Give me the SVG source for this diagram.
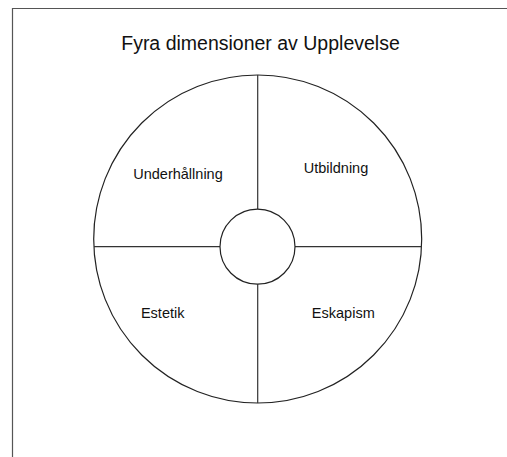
<svg xmlns="http://www.w3.org/2000/svg" width="507" height="457" viewBox="0 0 507 457">
<style>
.frame{fill:none;stroke:#555;stroke-width:1.2}
.shape{fill:#fff;stroke:#222;stroke-width:1.2}
.line{fill:none;stroke:#333;stroke-width:1.2}
.title{font-family:"Liberation Sans",Arial,sans-serif;font-size:19.5px;fill:#111;text-anchor:middle}
.lbl{font-family:"Liberation Sans",Arial,sans-serif;font-size:14.5px;fill:#111;text-anchor:middle}
</style>
<rect width="507" height="457" fill="#fff"/>
<path class="frame" d="M12.5,457 V8.5 H507"/>
<text class="title" x="260.5" y="50">Fyra dimensioner av Upplevelse</text>
<g id="wheel">
<circle class="shape" cx="257.7" cy="239" r="164"/>
</g>
<g id="connectors">
<line class="line" x1="257.7" y1="75" x2="257.7" y2="209"/>
<line class="line" x1="257.7" y1="284" x2="257.7" y2="403"/>
<line class="line" x1="94" y1="246.7" x2="220" y2="246.7"/>
<line class="line" x1="295" y1="246.7" x2="421.5" y2="246.7"/>
</g>
<g id="center">
<circle class="shape" cx="257.5" cy="246.7" r="37.5"/>
</g>
<g id="underhallning"><text class="lbl" x="178" y="178.5">Underhållning</text></g>
<g id="utbildning"><text class="lbl" x="336" y="173">Utbildning</text></g>
<g id="estetik"><text class="lbl" x="162.7" y="318.3">Estetik</text></g>
<g id="eskapism"><text class="lbl" x="343.3" y="318.3">Eskapism</text></g>
</svg>
